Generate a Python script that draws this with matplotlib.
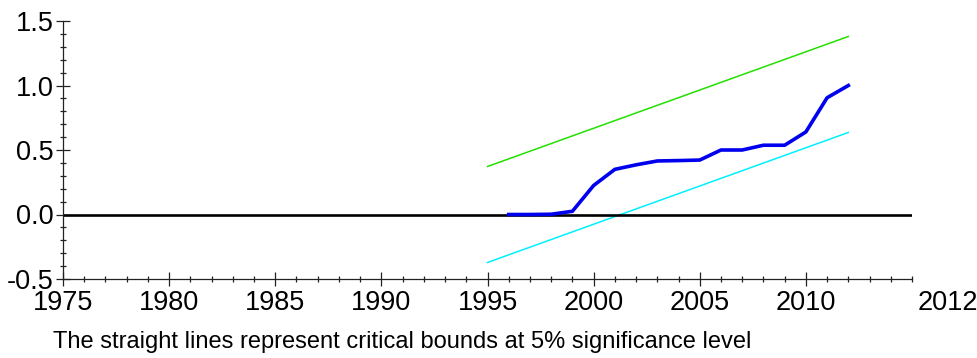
import matplotlib
matplotlib.use("Agg")
import matplotlib.pyplot as plt
from matplotlib.ticker import MultipleLocator

# CUSUM of squares 数据
years = [1996, 1997, 1998, 1999, 2000, 2001, 2002, 2003, 2004,
         2005, 2006, 2007, 2008, 2009, 2010, 2011, 2012]
cusumsq = [0.0, 0.0, 0.002, 0.025, 0.225, 0.35, 0.385, 0.415, 0.418,
           0.422, 0.50, 0.50, 0.537, 0.537, 0.64, 0.905, 1.0]

# 5% 临界边界
bound_years = [1995, 2012]
upper = [0.372, 1.38]
lower = [-0.372, 0.636]

xticks = [1975, 1980, 1985, 1990, 1995, 2000, 2005, 2010]
end_label = "2012"
caption = "The straight lines represent critical bounds at 5% significance level"

plt.rcParams['font.family'] = ['Liberation Sans', 'DejaVu Sans']

fig = plt.figure(figsize=(9.78, 3.58), dpi=100)
ax = fig.add_axes([63 / 978, 1 - 279 / 358, (912 - 63) / 978, (279 - 21) / 358])

ax.plot(bound_years, upper, color='#22e000', lw=1.1)
ax.plot(bound_years, lower, color='#00f0ff', lw=1.1)
ax.axhline(0, color='black', lw=1.9)
ax.plot(years, cusumsq, color='#0000ee', lw=2.6)

ax.set_xlim(1975, 2015)
ax.set_ylim(-0.5, 1.5)
ax.set_xticks(xticks)
ax.set_yticks([-0.5, 0.0, 0.5, 1.0, 1.5])
ax.set_yticklabels(['-0.5', '0.0', '0.5', '1.0', '1.5'])
ax.xaxis.set_minor_locator(MultipleLocator(1))
ax.yaxis.set_minor_locator(MultipleLocator(0.1))

for s in ['top', 'right']:
    ax.spines[s].set_visible(False)
for s in ['left', 'bottom']:
    ax.spines[s].set_linewidth(0.9)
    ax.spines[s].set_color('#222222')

ax.tick_params(which='major', direction='inout', length=10, width=0.9,
               color='#222222', labelsize=19.5)
ax.tick_params(which='minor', direction='inout', length=4.5, width=0.9,
               color='#222222')
ax.tick_params(axis='y', which='major', pad=2)
ax.tick_params(axis='x', which='major', pad=3)

# 末端标签
ax.annotate(end_label, xy=(1, 0), xycoords='axes fraction',
            xytext=(4, -8), textcoords='offset points',
            ha='left', va='top', fontsize=19.5)

fig.text(53 / 978, 1 - 348 / 358, caption, fontsize=17,
         ha='left', va='baseline')

fig.savefig('out.png', dpi=100)
